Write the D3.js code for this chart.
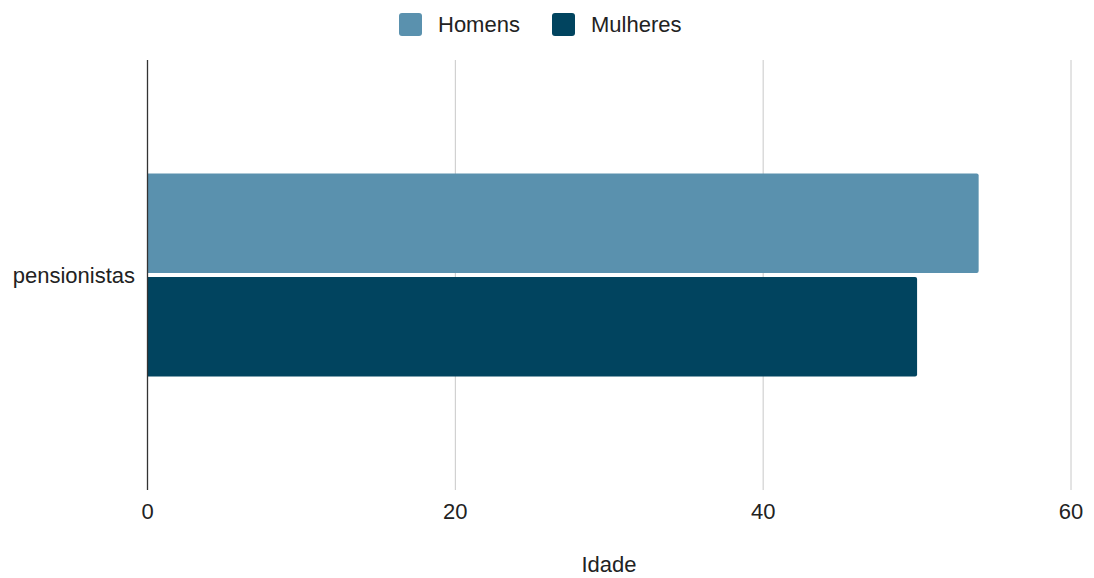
<!DOCTYPE html>
<html>
<head>
<meta charset="utf-8">
<script src="https://cdn.jsdelivr.net/npm/d3@7"></script>
<style>
  body { margin: 0; background: #fff; }
  text { font-family: "Liberation Sans", Arial, sans-serif; fill: #222; }
</style>
</head>
<body>
<script>
// * DATA
const categories = ["pensionistas"];
const seriesNames = ["Homens", "Mulheres"];
const homens = [54];
const mulheres = [50];
const xTicks = [0, 20, 40, 60];
const colors = ["#5a91ae", "#01445f"];

const width = 1094, height = 578;
const margin = { top: 60, right: 23, bottom: 88, left: 147.5 };
const fontSize = 22;

const svg = d3.select("body").append("svg")
  .attr("width", width)
  .attr("height", height)
  .attr("viewBox", [0, 0, width, height]);

const x = d3.scaleLinear()
  .domain([0, 60])
  .range([margin.left, width - margin.right]);

const y0 = d3.scaleBand()
  .domain(categories)
  .range([margin.top, height - margin.bottom])
  .paddingInner(0)
  .paddingOuter(0.559);

const y1 = d3.scaleBand()
  .domain(seriesNames)
  .range([0, y0.bandwidth()])
  .paddingInner(0.039);

const color = d3.scaleOrdinal(seriesNames, colors);

// * GRID
svg.append("g")
  .selectAll("line")
  .data(xTicks.filter(d => d !== 0))
  .join("line")
  .attr("x1", d => x(d)).attr("x2", d => x(d))
  .attr("y1", margin.top).attr("y2", height - margin.bottom)
  .attr("stroke", "#c8c8c8")
  .attr("stroke-width", 1);

// * BARS
const rows = categories.map((c, i) => ({ cat: c, values: [homens[i], mulheres[i]] }));

// right-rounded bar path
function barPath(x0, x1, yTop, h, r) {
  return `M${x0},${yTop}H${x1 - r}Q${x1},${yTop} ${x1},${yTop + r}V${yTop + h - r}Q${x1},${yTop + h} ${x1 - r},${yTop + h}H${x0}Z`;
}

svg.append("g")
  .selectAll("g")
  .data(rows)
  .join("g")
  .attr("transform", d => `translate(0,${y0(d.cat)})`)
  .selectAll("path")
  .data(d => d.values.map((v, i) => ({ key: seriesNames[i], value: v })))
  .join("path")
  .attr("fill", d => color(d.key))
  .attr("d", d => barPath(x(0), x(d.value), y1(d.key), y1.bandwidth(), 2));

// * AXIS LINE at 0
svg.append("line")
  .attr("x1", x(0)).attr("x2", x(0))
  .attr("y1", margin.top).attr("y2", height - margin.bottom)
  .attr("stroke", "#333")
  .attr("stroke-width", 1.3);

// * X TICK LABELS
svg.append("g")
  .selectAll("text")
  .data(xTicks)
  .join("text")
  .attr("x", d => x(d))
  .attr("y", 519)
  .attr("text-anchor", "middle")
  .attr("font-size", fontSize)
  .text(d => d);

// * Y LABELS
svg.append("g")
  .selectAll("text")
  .data(categories)
  .join("text")
  .attr("x", 135)
  .attr("y", d => y0(d) + y0.bandwidth() / 2)
  .attr("dy", "0.35em")
  .attr("text-anchor", "end")
  .attr("font-size", fontSize)
  .text(d => d);

// * AXIS TITLE
svg.append("text")
  .attr("x", 609)
  .attr("y", 572)
  .attr("text-anchor", "middle")
  .attr("font-size", fontSize)
  .text("Idade");

// * LEGEND
const legendX = [399, 552];
const legend = svg.append("g")
  .selectAll("g")
  .data(seriesNames)
  .join("g")
  .attr("transform", (d, i) => `translate(${legendX[i]},13)`);

legend.append("rect")
  .attr("width", 23).attr("height", 23)
  .attr("rx", 3)
  .attr("fill", d => color(d));

legend.append("text")
  .attr("x", 39)
  .attr("y", 11.5)
  .attr("dy", "0.35em")
  .attr("font-size", fontSize)
  .text(d => d);
</script>
</body>
</html>
